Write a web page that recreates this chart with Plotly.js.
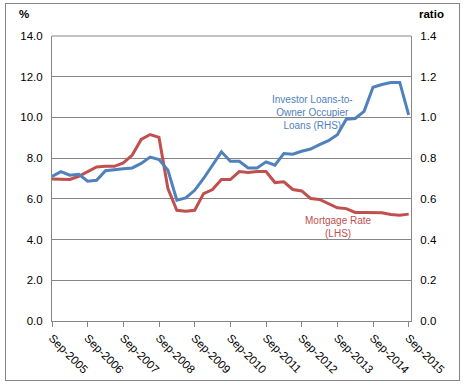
<!DOCTYPE html>
<html>
<head>
<meta charset="utf-8">
<script src="https://cdn.plot.ly/plotly-3.0.1.min.js"></script>
<style>
  html, body { margin: 0; padding: 0; background: #fff; }
  #wrap { position: relative; width: 465px; height: 386px; }
  #chart { position: absolute; left: 0; top: 0; width: 465px; height: 386px; }
  #frame { position: absolute; left: 5px; top: 3px; width: 453px; height: 376px; border: 1px solid #868686; pointer-events: none; }
</style>
</head>
<body>
<div id="wrap"><div id="chart"></div><div id="frame"></div></div>
<script>
// Quarterly, Sep-2005 .. Sep-2015
const tickLabels = ["Sep-2005","Sep-2006","Sep-2007","Sep-2008","Sep-2009","Sep-2010","Sep-2011","Sep-2012","Sep-2013","Sep-2014","Sep-2015"];

// Mortgage rate (%), LHS
const mortgageRate = [6.97,6.95,6.95,7.11,7.34,7.57,7.60,7.60,7.77,8.15,8.92,9.16,9.02,6.51,5.44,5.39,5.44,6.26,6.46,6.95,6.95,7.34,7.29,7.34,7.34,6.80,6.84,6.46,6.39,6.02,5.97,5.77,5.56,5.52,5.33,5.33,5.33,5.32,5.23,5.20,5.25];

// Investor loans to owner-occupier loans (ratio), RHS
const investorRatio = [0.710,0.734,0.716,0.721,0.687,0.691,0.738,0.744,0.748,0.752,0.774,0.805,0.793,0.741,0.593,0.605,0.642,0.700,0.765,0.831,0.785,0.785,0.752,0.752,0.782,0.765,0.823,0.819,0.834,0.845,0.866,0.886,0.915,0.991,0.995,1.030,1.148,1.162,1.171,1.172,1.013];

const xIdx = mortgageRate.map((_, i) => i);
const tickIdx = tickLabels.map((_, i) => i * 4);

const red = '#C0504D';
const blue = '#4F81BD';
const grid = '#868686';
const fontFam = '"Liberation Sans", Arial, sans-serif';

const traces = [
  { x: xIdx, y: mortgageRate, type: 'scatter', mode: 'lines', yaxis: 'y',
    line: { color: red, width: 3 }, hoverinfo: 'skip' },
  { x: xIdx, y: investorRatio, type: 'scatter', mode: 'lines', yaxis: 'y2',
    line: { color: blue, width: 3 }, hoverinfo: 'skip' }
];

const layout = {
  width: 465, height: 386,
  margin: { l: 52, r: 54, t: 36, b: 65 },
  paper_bgcolor: 'rgba(0,0,0,0)', plot_bgcolor: '#fff',
  showlegend: false,
  font: { family: fontFam, size: 11.5, color: '#000' },
  xaxis: {
    range: [0, 40.26], tickmode: 'array', tickvals: tickIdx, ticktext: tickLabels,
    tickangle: 45, ticks: 'outside', ticklen: 5, tickcolor: grid,
    showline: true, linecolor: grid, linewidth: 1, showgrid: false, zeroline: false,
    tickfont: { size: 11.5 }
  },
  yaxis: {
    range: [0, 14], dtick: 2, tick0: 0, tickformat: '.1f',
    showgrid: true, gridcolor: grid, gridwidth: 1, zeroline: false,
    showline: true, linecolor: grid, ticks: '', ticklabelstandoff: 6
  },
  yaxis2: {
    range: [0, 1.4], dtick: 0.2, tick0: 0, tickformat: '.1f', overlaying: 'y', side: 'right',
    showgrid: false, zeroline: false, showline: true, linecolor: grid, ticks: '', ticklabelstandoff: 6
  },
  shapes: [
    { type: 'line', xref: 'paper', yref: 'paper', x0: 0, x1: 1, y0: 1, y1: 1, line: { color: grid, width: 1 } }
  ],
  annotations: [
    { xref: 'paper', yref: 'paper', x: -0.078, y: 1.077, text: '<b>%</b>', showarrow: false, xanchor: 'center', yanchor: 'middle', font: { size: 11.5 } },
    { xref: 'paper', yref: 'paper', x: 1.058, y: 1.077, text: '<b>ratio</b>', showarrow: false, xanchor: 'center', yanchor: 'middle', font: { size: 11.5 } },
    { xref: 'x', yref: 'y', x: 29.2, y: 10.26, text: 'Investor Loans-to-<br>Owner Occupier<br>Loans (RHS)', showarrow: false,
      xanchor: 'center', yanchor: 'middle', align: 'center', font: { size: 10, color: blue } },
    { xref: 'x', yref: 'y', x: 32.1, y: 4.6, text: 'Mortgage Rate<br>(LHS)', showarrow: false,
      xanchor: 'center', yanchor: 'middle', align: 'center', font: { size: 10, color: red } }
  ]
};

Plotly.newPlot('chart', traces, layout, { displayModeBar: false, staticPlot: true });
</script>
</body>
</html>
